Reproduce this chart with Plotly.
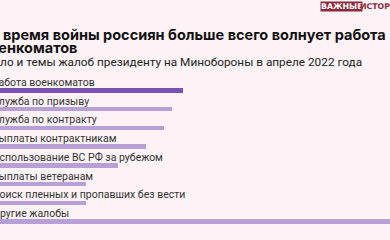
import plotly.graph_objects as go

W, H = 390, 240

categories = [
    "Работа военкоматов",
    "Служба по призыву",
    "Служба по контракту",
    "Выплаты контрактникам",
    "Использование ВС РФ за рубежом",
    "Выплаты ветеранам",
    "Поиск пленных и пропавших без вести",
    "Другие жалобы",
]
values = [955, 900, 860, 770, 630, 470, 470, 2400]

title_lines = ["Во время войны россиян больше всего волнует работа", "военкоматов"]
subtitle = "Число и темы жалоб президенту на Минобороны в апреле 2022 года"

BG = "#fdf3f6"
colors = ["#7b52b3"] + ["#b89fd6"] * 7

units_per_px = 5.0
x0 = 8 * units_per_px
xrange = [x0, x0 + W * units_per_px]

TOP = 81.2
BOT = 238.3
PH = BOT - TOP

def px(v):
    return v / W

def py(v):
    return (BOT - v) / PH

fig = go.Figure()
fig.add_trace(go.Bar(
    y=categories, x=values, orientation="h",
    marker=dict(color=colors, line=dict(width=0)),
    width=0.24, hoverinfo="skip",
))

annotations = []
for c in categories:
    annotations.append(dict(
        x=px(-10.5), xref="paper", y=c, yref="y", yshift=8,
        text=c, showarrow=False, xanchor="left", yanchor="middle",
        font=dict(family="Roboto", size=10.5, color="#333333"),
    ))

annotations.append(dict(
    x=px(-21), xref="paper", y=py(35), yref="paper",
    text="<b>" + title_lines[0] + "</b>", showarrow=False, xanchor="left", yanchor="middle",
    font=dict(family="Inter", size=14.5, color="#111111"),
))
annotations.append(dict(
    x=px(-21), xref="paper", y=py(47.5), yref="paper",
    text="<b>" + title_lines[1] + "</b>", showarrow=False, xanchor="left", yanchor="middle",
    font=dict(family="Inter", size=14.5, color="#111111"),
))
annotations.append(dict(
    x=px(-23), xref="paper", y=py(62), yref="paper",
    text=subtitle, showarrow=False, xanchor="left", yanchor="middle",
    font=dict(family="Roboto", size=11.8, color="#222222"),
))
annotations.append(dict(
    x=px(320), xref="paper", y=py(6.5), yref="paper",
    text="<b>ВАЖНЫЕ</b>", showarrow=False, xanchor="left", yanchor="middle",
    bgcolor="#8c2a3b", borderpad=0,
    font=dict(family="DejaVu Sans", size=7.8, color="#ffffff"),
))
annotations.append(dict(
    x=px(358), xref="paper", y=py(6.5), yref="paper",
    text="<b>ИСТОРИИ</b>", showarrow=False, xanchor="left", yanchor="middle",
    font=dict(family="DejaVu Sans", size=7.8, color="#8c2a3b"),
))

fig.update_layout(
    width=W, height=H,
    margin=dict(l=0, r=0, t=TOP, b=H - BOT, pad=0),
    paper_bgcolor=BG, plot_bgcolor=BG,
    showlegend=False,
    xaxis=dict(range=xrange, visible=False, fixedrange=True),
    yaxis=dict(autorange="reversed", visible=False, fixedrange=True),
    annotations=annotations,
    bargap=0,
)

fig.write_html("out.html", config={"displayModeBar": False})
